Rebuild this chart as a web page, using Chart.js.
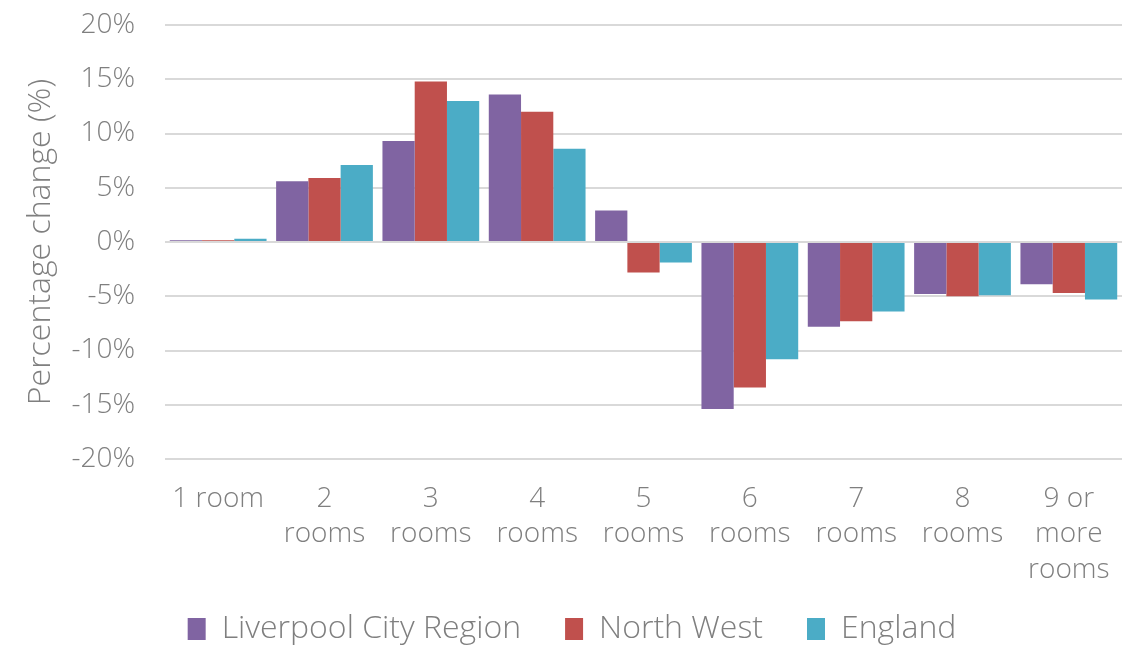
<!DOCTYPE html>
<html>
<head>
<meta charset="utf-8">
<script src="https://cdn.jsdelivr.net/npm/chart.js@4"></script>
<style>
  html, body { margin: 0; padding: 0; background: #fff; }
  #wrap { width: 1135px; height: 648px; }
</style>
</head>
<body>
<div id="wrap"><canvas id="roomsChart" width="1135" height="648"></canvas></div>
<script>
// Change in households by number of rooms
const categories = ['1 room', ['2', 'rooms'], ['3', 'rooms'], ['4', 'rooms'], ['5', 'rooms'],
  ['6', 'rooms'], ['7', 'rooms'], ['8', 'rooms'], ['9 or', 'more', 'rooms']];
const liverpool = [0.15, 5.6, 9.3, 13.6, 2.9, -15.4, -7.8, -4.8, -3.9];
const northWest = [0.15, 5.9, 14.8, 12.0, -2.8, -13.4, -7.3, -5.0, -4.7];
const england = [0.3, 7.1, 13.0, 8.6, -1.9, -10.8, -6.4, -4.9, -5.3];
const yTicks = [-20, -15, -10, -5, 0, 5, 10, 15, 20];

const textColor = '#7f7f7f';
const fontFamily = '"Open Sans", Lato, sans-serif';

const ctx = document.getElementById('roomsChart').getContext('2d');

new Chart(ctx, {
  type: 'bar',
  data: {
    labels: categories,
    datasets: [{
      label: 'Liverpool City Region',
      data: liverpool,
      backgroundColor: '#8064a2'
    }, {
      label: 'North West',
      data: northWest,
      backgroundColor: '#c0504d'
    }, {
      label: 'England',
      data: england,
      backgroundColor: '#4bacc6'
    }]
  },
  options: {
    responsive: false,
    animation: false,
    layout: {
      // legend padding is wide for item spacing, so pull it down a bit
      padding: { top: 0, right: 13, left: 22, bottom: -7 }
    },
    datasets: {
      bar: {
        categoryPercentage: 0.91,
        barPercentage: 1
      }
    },
    scales: {
      x: {
        grid: { display: false },
        border: { display: false },
        afterFit: (scale) => {
          scale.height = 110;
          // let the 3-line label run into the legend's top padding
          scale._computeLabelArea = () => undefined;
        },
        ticks: {
          color: textColor,
          font: { family: fontFamily, size: 28, weight: 300, lineHeight: 1.27 },
          padding: 14,
          maxRotation: 0,
          autoSkip: false
        }
      },
      y: {
        min: -20,
        max: 20,
        afterBuildTicks: (axis) => {
          axis.ticks = yTicks.map(v => ({ value: v }));
        },
        afterFit: (scale) => {
          scale.width = 143;
          scale.paddingTop = 25;
          scale.paddingBottom = 0;
        },
        grid: {
          color: '#d9d9d9',
          lineWidth: 2,
          drawTicks: false
        },
        border: { display: false },
        ticks: {
          color: textColor,
          font: { family: fontFamily, size: 28, weight: 300 },
          padding: 30,
          callback: (v) => v + '%'
        },
        title: {
          display: true,
          text: 'Percentage change (%)',
          color: textColor,
          font: { family: fontFamily, size: 32, weight: 300 },
          padding: { top: 0, bottom: 0 }
        }
      }
    },
    plugins: {
      tooltip: { enabled: false },
      legend: {
        position: 'bottom',
        labels: {
          color: textColor,
          font: { family: fontFamily, size: 32, weight: 300 },
          boxWidth: 18,
          boxHeight: 22,
          padding: 44
        }
      }
    }
  }
});
</script>
</body>
</html>
